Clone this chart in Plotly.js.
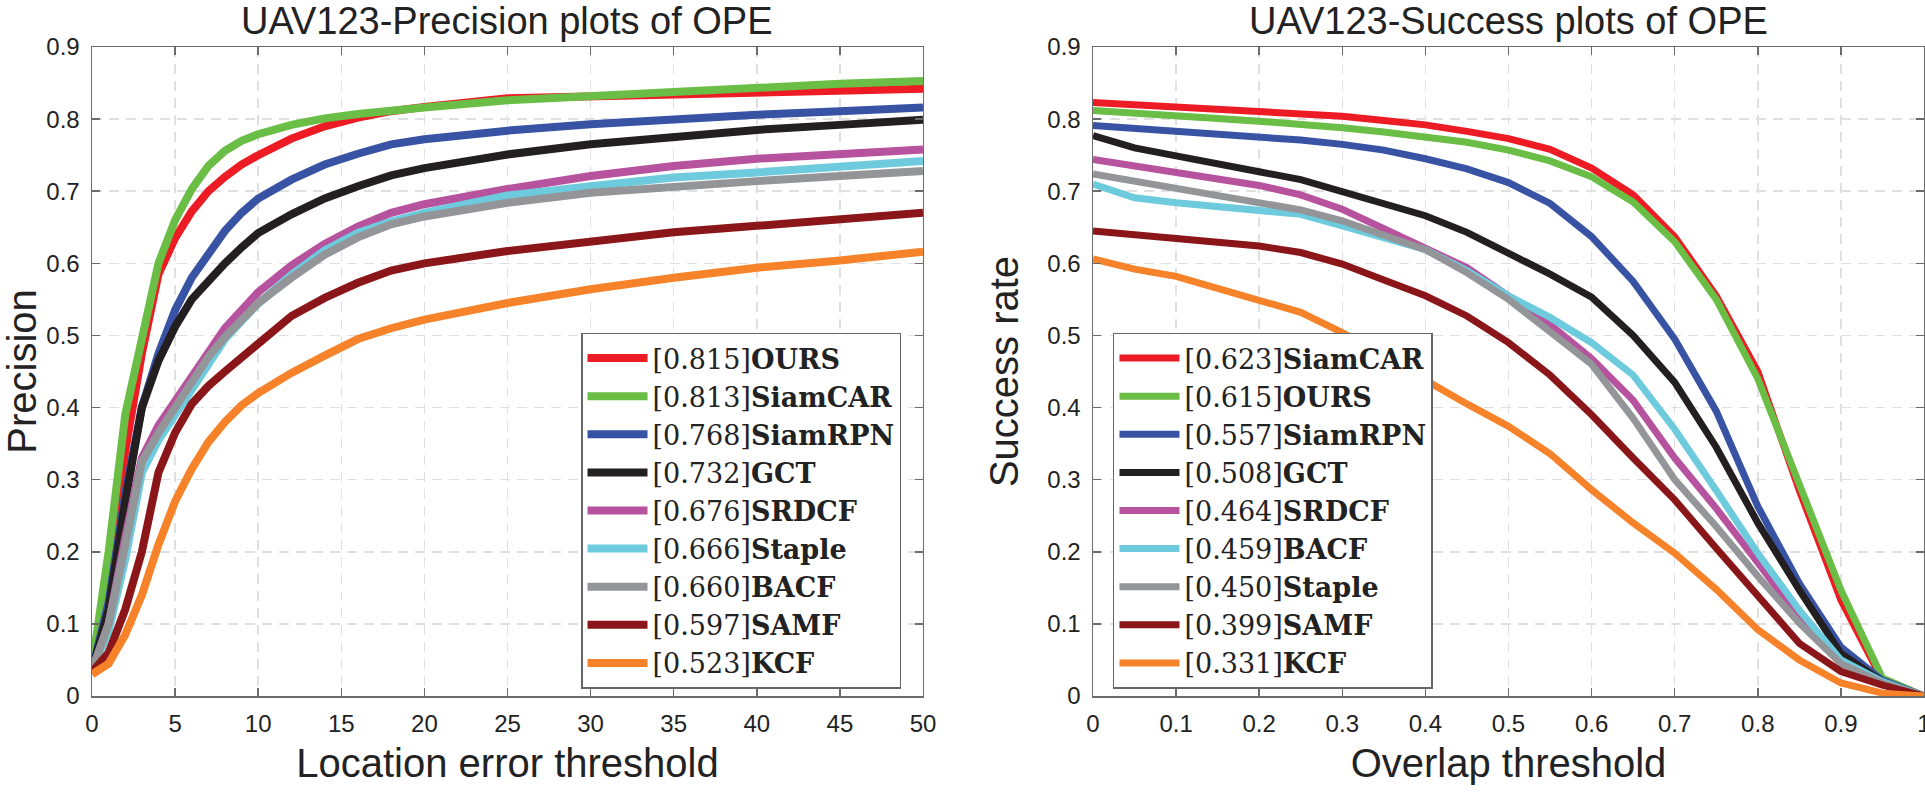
<!DOCTYPE html>
<html>
<head>
<meta charset="utf-8">
<script src="https://cdn.plot.ly/plotly-3.0.1.min.js"></script>
<style>html,body{margin:0;padding:0;background:#fff;}#chart{width:1925px;height:793px;}</style>
</head>
<body>
<div id="chart"></div>
<script>
// ---------- Precision plot data ----------
var precThresholds = [0,1,2,3,4,5,6,7,8,9,10,12,14,16,18,20,25,30,35,40,45,50];
var precOURS    = [0.035,0.16,0.34,0.475,0.585,0.635,0.672,0.70,0.72,0.737,0.75,0.773,0.79,0.802,0.811,0.817,0.829,0.832,0.835,0.838,0.840,0.842];
var precSiamCAR = [0.04,0.20,0.39,0.50,0.60,0.66,0.703,0.735,0.756,0.77,0.779,0.792,0.801,0.807,0.812,0.816,0.826,0.832,0.839,0.844,0.849,0.853];
var precSiamRPN = [0.035,0.13,0.28,0.40,0.475,0.535,0.58,0.615,0.645,0.67,0.69,0.716,0.737,0.752,0.765,0.772,0.784,0.793,0.80,0.806,0.811,0.816];
var precGCT     = [0.035,0.12,0.27,0.40,0.465,0.512,0.55,0.577,0.60,0.622,0.642,0.668,0.69,0.707,0.722,0.732,0.751,0.765,0.776,0.785,0.792,0.799];
var precSRDCF   = [0.035,0.10,0.22,0.33,0.375,0.41,0.445,0.48,0.51,0.535,0.56,0.597,0.627,0.651,0.67,0.682,0.703,0.721,0.735,0.745,0.752,0.758];
var precStaple  = [0.035,0.09,0.19,0.31,0.355,0.39,0.43,0.465,0.495,0.52,0.544,0.584,0.618,0.642,0.658,0.67,0.694,0.707,0.719,0.726,0.734,0.742];
var precBACF    = [0.035,0.10,0.21,0.325,0.365,0.40,0.437,0.47,0.498,0.522,0.545,0.58,0.612,0.636,0.654,0.665,0.684,0.698,0.707,0.714,0.721,0.728];
var precSAMF    = [0.033,0.06,0.12,0.20,0.31,0.365,0.405,0.43,0.45,0.47,0.49,0.527,0.552,0.573,0.59,0.60,0.617,0.631,0.643,0.652,0.66,0.670];
var precKCF     = [0.03,0.045,0.085,0.14,0.21,0.27,0.315,0.352,0.38,0.403,0.42,0.448,0.472,0.495,0.51,0.522,0.545,0.564,0.58,0.594,0.604,0.616];
var precNames  = ["OURS","SiamCAR","SiamRPN","GCT","SRDCF","Staple","BACF","SAMF","KCF"];
var precScores = ["0.815","0.813","0.768","0.732","0.676","0.666","0.660","0.597","0.523"];

// ---------- Success plot data ----------
var succThresholds = [0,0.05,0.1,0.15,0.2,0.25,0.3,0.35,0.4,0.45,0.5,0.55,0.6,0.65,0.7,0.75,0.8,0.85,0.9,0.95,1];
var succSiamCAR = [0.823,0.82,0.817,0.814,0.811,0.808,0.804,0.798,0.792,0.783,0.773,0.758,0.732,0.695,0.637,0.555,0.45,0.285,0.133,0.022,0];
var succOURS    = [0.812,0.809,0.805,0.801,0.797,0.793,0.788,0.782,0.776,0.768,0.757,0.742,0.72,0.685,0.63,0.55,0.44,0.295,0.147,0.025,0];
var succSiamRPN = [0.791,0.787,0.783,0.779,0.776,0.771,0.765,0.757,0.745,0.731,0.712,0.683,0.637,0.575,0.495,0.395,0.263,0.156,0.068,0.022,0];
var succGCT     = [0.777,0.760,0.749,0.737,0.727,0.716,0.700,0.683,0.666,0.643,0.615,0.585,0.553,0.50,0.435,0.345,0.24,0.147,0.059,0.02,0];
var succSRDCF   = [0.744,0.735,0.727,0.718,0.708,0.695,0.675,0.648,0.622,0.594,0.555,0.515,0.468,0.41,0.33,0.26,0.185,0.108,0.045,0.018,0];
var succBACF    = [0.710,0.691,0.684,0.679,0.674,0.668,0.652,0.635,0.619,0.59,0.555,0.525,0.49,0.445,0.37,0.285,0.198,0.119,0.05,0.02,0];
var succStaple  = [0.724,0.714,0.705,0.695,0.686,0.674,0.659,0.64,0.619,0.587,0.55,0.505,0.46,0.385,0.30,0.235,0.166,0.101,0.045,0.018,0];
var succSAMF    = [0.645,0.64,0.636,0.63,0.624,0.615,0.599,0.577,0.555,0.527,0.49,0.445,0.39,0.33,0.272,0.205,0.138,0.073,0.034,0.015,0];
var succKCF     = [0.606,0.592,0.582,0.565,0.548,0.532,0.504,0.47,0.438,0.405,0.374,0.336,0.286,0.24,0.198,0.148,0.092,0.05,0.018,0.004,0];
var succNames  = ["SiamCAR","OURS","SiamRPN","GCT","SRDCF","BACF","Staple","SAMF","KCF"];
var succScores = ["0.623","0.615","0.557","0.508","0.464","0.459","0.450","0.399","0.331"];

var colors = ["#ED1C24","#6ABD45","#3953A4","#231F20","#B6529E","#6DCBDD","#939598","#8A1619","#F6822A"];

var precSeries = [precOURS,precSiamCAR,precSiamRPN,precGCT,precSRDCF,precStaple,precBACF,precSAMF,precKCF];
var succSeries = [succSiamCAR,succOURS,succSiamRPN,succGCT,succSRDCF,succBACF,succStaple,succSAMF,succKCF];

var traces = [];
precSeries.forEach(function(ys, i){
  traces.push({
    x: precThresholds, y: ys, type: 'scatter', mode: 'lines',
    name: '[' + precScores[i] + ']<b>' + precNames[i] + '</b>',
    line: {color: colors[i], width: 8}, xaxis: 'x', yaxis: 'y', legend: 'legend'
  });
});
succSeries.forEach(function(ys, i){
  traces.push({
    x: succThresholds, y: ys, type: 'scatter', mode: 'lines',
    name: '[' + succScores[i] + ']<b>' + succNames[i] + '</b>',
    line: {color: colors[i], width: 7}, xaxis: 'x2', yaxis: 'y2', legend: 'legend2'
  });
});

var axisCommon = {
  showline: true, linecolor: '#6b6b6b', linewidth: 1.5, mirror: 'ticks',
  ticks: 'inside', ticklen: 8, tickwidth: 1.5, tickcolor: '#6b6b6b',
  showgrid: true, gridcolor: '#e0e0e0', gridwidth: 1.5, griddash: '10px,7px',
  zeroline: false, tickfont: {family: 'Liberation Sans, Arial, sans-serif', size: 24, color: '#222'},
  automargin: false
};
function ax(extra){ return Object.assign({}, JSON.parse(JSON.stringify(axisCommon)), extra); }

var titleFont = {family: 'Liberation Sans, Arial, sans-serif', size: 40, color: '#222'};
var legendFont = {family: 'DejaVu Serif, serif', size: 27, color: '#222'};

var layout = {
  width: 1925, height: 793,
  margin: {l: 92, r: 1, t: 47, b: 97},
  paper_bgcolor: '#fff', plot_bgcolor: '#fff',
  showlegend: true,
  xaxis: ax({domain: [0, 0.4536], range: [0, 50], dtick: 5, tick0: 0, ticklabelstandoff: 6,
    title: {text: 'Location error threshold', font: titleFont, standoff: 12}}),
  yaxis: ax({domain: [0, 1], range: [0, 0.9], dtick: 0.1, tick0: 0, ticklabelstandoff: 6,
    title: {text: 'Precision', font: titleFont, standoff: 18}}),
  xaxis2: ax({domain: [0.5464, 1], range: [0, 1], dtick: 0.1, tick0: 0, anchor: 'y2', ticklabelstandoff: 6,
    ticklabeloverflow: 'allow',
    title: {text: 'Overlap threshold', font: titleFont, standoff: 12}}),
  yaxis2: ax({domain: [0, 1], range: [0, 0.9], dtick: 0.1, tick0: 0, anchor: 'x2', ticklabelstandoff: 6,
    title: {text: 'Success rate', font: titleFont, standoff: 16}}),
  legend: {x: 0.4416, xanchor: 'right', y: 0.560, yanchor: 'top',
    bgcolor: '#fff', bordercolor: '#666', borderwidth: 1.5, font: legendFont, itemwidth: 60, tracegroupgap: 0},
  legend2: {x: 0.5573, xanchor: 'left', y: 0.560, yanchor: 'top',
    bgcolor: '#fff', bordercolor: '#666', borderwidth: 1.5, font: legendFont, itemwidth: 60, tracegroupgap: 0},
  annotations: [
    {text: 'UAV123-Precision plots of OPE', xref: 'paper', yref: 'paper', x: 0.2268, y: 1, yshift: 26,
     xanchor: 'center', yanchor: 'middle', showarrow: false,
     font: {family: 'Liberation Sans, Arial, sans-serif', size: 38, color: '#222'}},
    {text: 'UAV123-Success plots of OPE', xref: 'paper', yref: 'paper', x: 0.7732, y: 1, yshift: 26,
     xanchor: 'center', yanchor: 'middle', showarrow: false,
     font: {family: 'Liberation Sans, Arial, sans-serif', size: 38, color: '#222'}}
  ]
};

Plotly.newPlot('chart', traces, layout, {displayModeBar: false, staticPlot: true});
</script>
</body>
</html>
